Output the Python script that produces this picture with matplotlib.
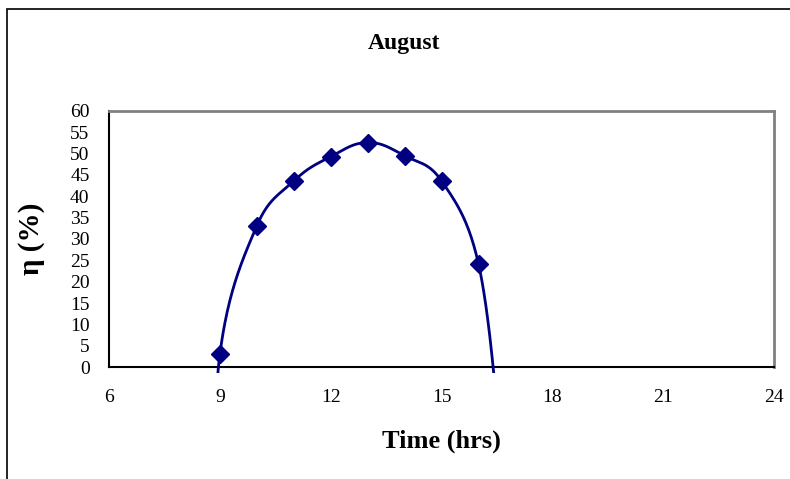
import numpy as np
import matplotlib
matplotlib.use("Agg")
import matplotlib.pyplot as plt
from matplotlib.patches import Rectangle

plt.rcParams['font.family'] = ['Liberation Serif', 'DejaVu Serif']

# measured efficiency, August
hours = [9, 10, 11, 12, 13, 14, 15, 16]
eff = [3.0, 33.1, 43.6, 49.3, 52.6, 49.5, 43.6, 24.1]

# the fitted curve runs on below zero at both ends (cut off at the axis)
curve_x = [8.9] + hours + [16.6]
curve_y = [-40] + eff + [-18]

xticks = [6, 9, 12, 15, 18, 21, 24]
yticks = list(range(0, 61, 5))


def smooth(ax, xs, ys, n=40, k=1 / 5):
    # smoothed line through the points, worked out in screen space
    p = ax.transData.transform(np.column_stack([xs, ys]))
    p = np.vstack([p[0], p, p[-1]])
    out = []
    for i in range(1, len(p) - 2):
        p0, p1, p2, p3 = p[i - 1], p[i], p[i + 1], p[i + 2]
        d12 = np.hypot(*(p2 - p1))
        d02 = np.hypot(*(p2 - p0))
        d13 = np.hypot(*(p3 - p1))
        f1 = min(k, d12 / 2 / d02) if d02 > 0 else k
        f2 = min(k, d12 / 2 / d13) if d13 > 0 else k
        c1 = p1 + (p2 - p0) * f1
        c2 = p2 - (p3 - p1) * f2
        t = np.linspace(0, 1, n)[:, None]
        b = ((1 - t) ** 3) * p1 + 3 * ((1 - t) ** 2) * t * c1 + 3 * (1 - t) * t ** 2 * c2 + t ** 3 * p2
        out.append(b)
    out = ax.transData.inverted().transform(np.vstack(out))
    return out[:, 0], out[:, 1]


fig = plt.figure(figsize=(7.9, 4.79), dpi=100)
ax = fig.add_axes([0.138, 0.2338, 0.842, 0.5345])

ax.set_xlim(6, 24)
ax.set_ylim(0, 60)

sx, sy = smooth(ax, curve_x, curve_y)
line, = ax.plot(sx, sy, color='#000080', lw=2, zorder=3)
clip = Rectangle((0, -0.024), 1, 1.05, transform=ax.transAxes, visible=False)
ax.add_patch(clip)
line.set_clip_path(clip)
ax.plot(hours, eff, 'D', color='#000080', ms=9, clip_on=False, zorder=4)

ax.set_xticks(xticks)
ax.set_yticks(yticks)
ax.tick_params(length=0, labelsize=14)
ax.tick_params(axis='y', pad=14)
ax.tick_params(axis='x', pad=16)

for s in ['top', 'right']:
    ax.spines[s].set_color('#808080')
    ax.spines[s].set_linewidth(2)
for s in ['left', 'bottom']:
    ax.spines[s].set_color('black')
    ax.spines[s].set_linewidth(1.5)

ax.set_xlabel('Time (hrs)', fontsize=19, fontweight='bold', labelpad=17)
ax.set_ylabel('η (%)', fontsize=21, fontweight='bold', labelpad=18)
fig.text(0.511, 0.91, 'August', ha='center', va='center', fontsize=17, fontweight='bold')

# outer chart area border (runs off the right and bottom)
fig.patches.append(Rectangle((7 / 790, -0.1), 1.2, 1 - 9 / 479 + 0.1,
                             transform=fig.transFigure, fill=False,
                             edgecolor='black', lw=1.2))

plt.savefig('out.png')
